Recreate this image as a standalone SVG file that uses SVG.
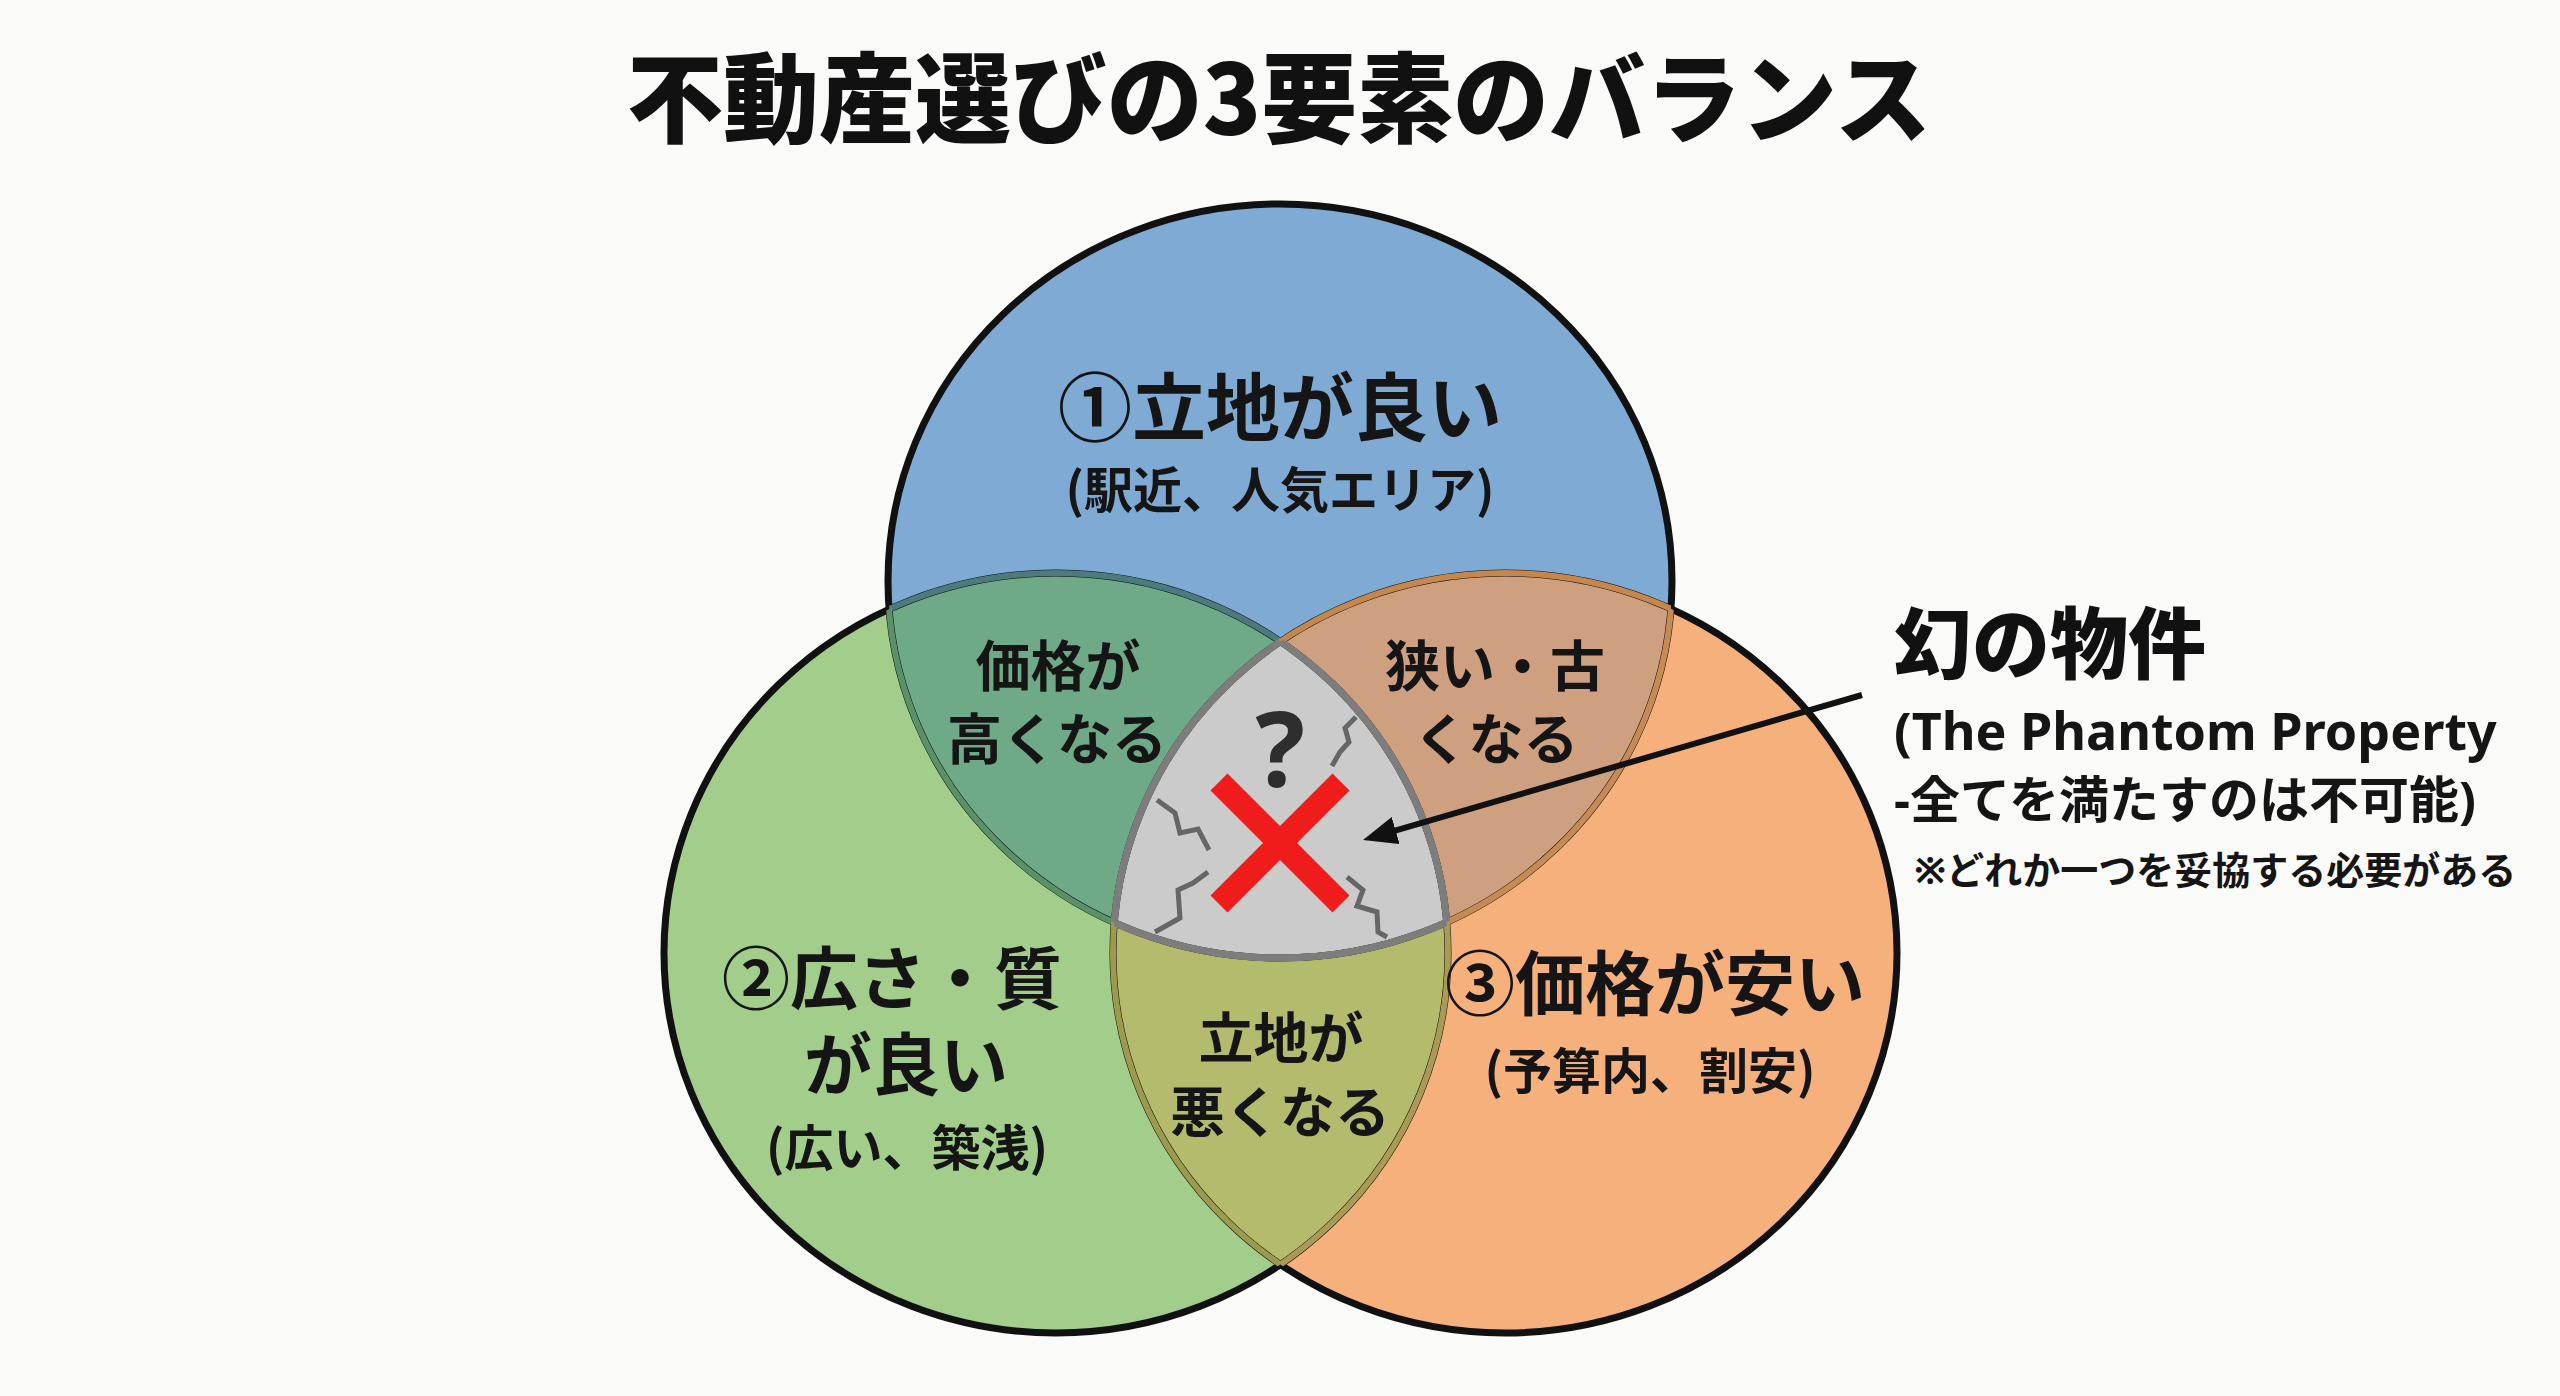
<svg xmlns="http://www.w3.org/2000/svg" width="2560" height="1396" viewBox="0 0 2560 1396">
<defs>
<style>
.t{font-family:'Noto Sans CJK JP','Noto Sans',sans-serif;font-weight:700;fill:#151515;text-anchor:middle}
.a{font-family:'Noto Sans','Noto Sans CJK JP',sans-serif;font-weight:700;fill:#151515}
.out{fill:none;stroke:#111;stroke-width:7}
.inner{fill:none;stroke-width:6}
.crack{fill:none;stroke:#666;stroke-width:5;stroke-linejoin:miter}
</style>
<clipPath id="cT"><ellipse cx="1280" cy="581" rx="392" ry="377"/></clipPath>
<clipPath id="cL"><ellipse cx="1056" cy="953" rx="392" ry="380"/></clipPath>
<clipPath id="cR"><ellipse cx="1505" cy="953" rx="392" ry="380"/></clipPath>
<marker id="ah" viewBox="0 0 34 28" refX="14" refY="14" markerWidth="34" markerHeight="28" markerUnits="userSpaceOnUse" orient="auto">
<path d="M0,0 L34,14 L0,28 Z" fill="#111"/>
</marker>
</defs>
<rect width="2560" height="1396" fill="#fafaf8"/>

<g id="title">
<text x="627" y="135" font-family="'Noto Sans CJK JP',sans-serif" font-size="98" font-weight="900" fill="#111" textLength="1304" lengthAdjust="spacingAndGlyphs">不動産選びの3要素のバランス</text>
</g>

<g id="node-location"><ellipse cx="1280" cy="581" rx="392" ry="377" fill="#7eaad3"/></g>
<g id="node-space"><ellipse cx="1056" cy="953" rx="392" ry="380" fill="#a3cd8b"/></g>
<g id="node-price"><ellipse cx="1505" cy="953" rx="392" ry="380" fill="#f5b07c"/></g>

<g id="overlap-location-space"><g clip-path="url(#cT)"><ellipse cx="1056" cy="953" rx="392" ry="380" fill="#6eaa88"/></g></g>
<g id="overlap-location-price"><g clip-path="url(#cT)"><ellipse cx="1505" cy="953" rx="392" ry="380" fill="#cfa080"/></g></g>
<g id="overlap-space-price"><g clip-path="url(#cL)"><ellipse cx="1505" cy="953" rx="392" ry="380" fill="#b5bb6d"/></g></g>
<g id="overlap-all-fill"><g clip-path="url(#cL)"><g clip-path="url(#cR)"><ellipse cx="1280" cy="581" rx="392" ry="377" fill="#cbcbcb"/></g></g></g>

<g id="outlines">
<ellipse class="out" cx="1280" cy="581" rx="392" ry="377"/>
<ellipse class="out" cx="1056" cy="953" rx="392" ry="380"/>
<ellipse class="out" cx="1505" cy="953" rx="392" ry="380"/>
<g clip-path="url(#cT)">
<ellipse class="inner" stroke="#4d7a7c" cx="1056" cy="953" rx="392" ry="380"/>
<ellipse class="inner" stroke="#c6874d" cx="1505" cy="953" rx="392" ry="380"/>
</g>
<g clip-path="url(#cL)">
<ellipse class="inner" stroke="#5b9168" cx="1280" cy="581" rx="392" ry="377"/>
<ellipse class="inner" stroke="#9c9a4e" cx="1505" cy="953" rx="392" ry="380"/>
</g>
<g clip-path="url(#cR)">
<ellipse class="inner" stroke="#c68a55" cx="1280" cy="581" rx="392" ry="377"/>
<ellipse class="inner" stroke="#aa9a55" cx="1056" cy="953" rx="392" ry="380"/>
</g>
<g clip-path="url(#cL)"><g clip-path="url(#cR)"><ellipse fill="none" stroke="#7d7d7d" stroke-width="7" cx="1280" cy="581" rx="392" ry="377"/></g></g>
<g clip-path="url(#cT)"><g clip-path="url(#cR)"><ellipse fill="none" stroke="#7d7d7d" stroke-width="7" cx="1056" cy="953" rx="392" ry="380"/></g></g>
<g clip-path="url(#cT)"><g clip-path="url(#cL)"><ellipse fill="none" stroke="#7d7d7d" stroke-width="7" cx="1505" cy="953" rx="392" ry="380"/></g></g>
</g>

<g id="overlap-all">
<polyline class="crack" points="1356,717 1345,728 1349,742 1340,752 1332,766"/>
<polyline class="crack" points="1157,800 1175,813 1180,833 1198,829 1209,850"/>
<polyline class="crack" points="1155,932 1180,918 1178,890 1193,883 1208,872"/>
<polyline class="crack" points="1347,877 1363,890 1357,906 1377,912 1378,932 1387,937"/>
<text x="1280" y="787" font-family="'Noto Sans',sans-serif" font-size="104" font-weight="700" fill="#2e2e2e" text-anchor="middle">?</text>
<line x1="1219" y1="782" x2="1341" y2="904" stroke="#f01c1c" stroke-width="24"/>
<line x1="1341" y1="782" x2="1219" y2="904" stroke="#f01c1c" stroke-width="24"/>
</g>

<g id="node-location-label">
<text class="t" x="1280" y="435" font-size="74">①立地が良い</text>
<text class="t" x="1280" y="508" font-size="49">(駅近、人気エリア)</text>
</g>
<g id="node-space-label">
<text class="t" x="892" y="1004" font-size="68">②広さ・質</text>
<text class="t" x="906" y="1090" font-size="68">が良い</text>
<text class="t" x="907" y="1166" font-size="49">(広い、築浅)</text>
</g>
<g id="node-price-label">
<text class="t" x="1655" y="1010" font-size="70">③価格が安い</text>
<text class="t" x="1650" y="1089" font-size="49">(予算内、割安)</text>
</g>
<g id="overlap-location-space-label">
<text class="t" x="1058" y="686" font-size="55">価格が</text>
<text class="t" x="1057" y="759" font-size="55">高くなる</text>
</g>
<g id="overlap-location-price-label">
<text class="t" x="1495" y="686" font-size="55">狭い・古</text>
<text class="t" x="1496" y="759" font-size="55">くなる</text>
</g>
<g id="overlap-space-price-label">
<text class="t" x="1281" y="1058" font-size="55">立地が</text>
<text class="t" x="1280" y="1132" font-size="55">悪くなる</text>
</g>

<g id="connectors">
<path d="M1862,695 L1382.2,834.4" fill="none" stroke="#111" stroke-width="6" marker-end="url(#ah)"/>
</g>

<g id="annotation-phantom">
<text x="1894" y="673" font-family="'Noto Sans CJK JP',sans-serif" font-size="78" font-weight="900" fill="#111">幻の物件</text>
<text class="a" x="1894" y="750" font-size="52">(The Phantom Property</text>
<text class="a" x="1894" y="818" font-size="50">-全てを満たすのは不可能)</text>
<text class="a" x="1914" y="884" font-size="38">※どれか一つを妥協する必要がある</text>
</g>
</svg>
